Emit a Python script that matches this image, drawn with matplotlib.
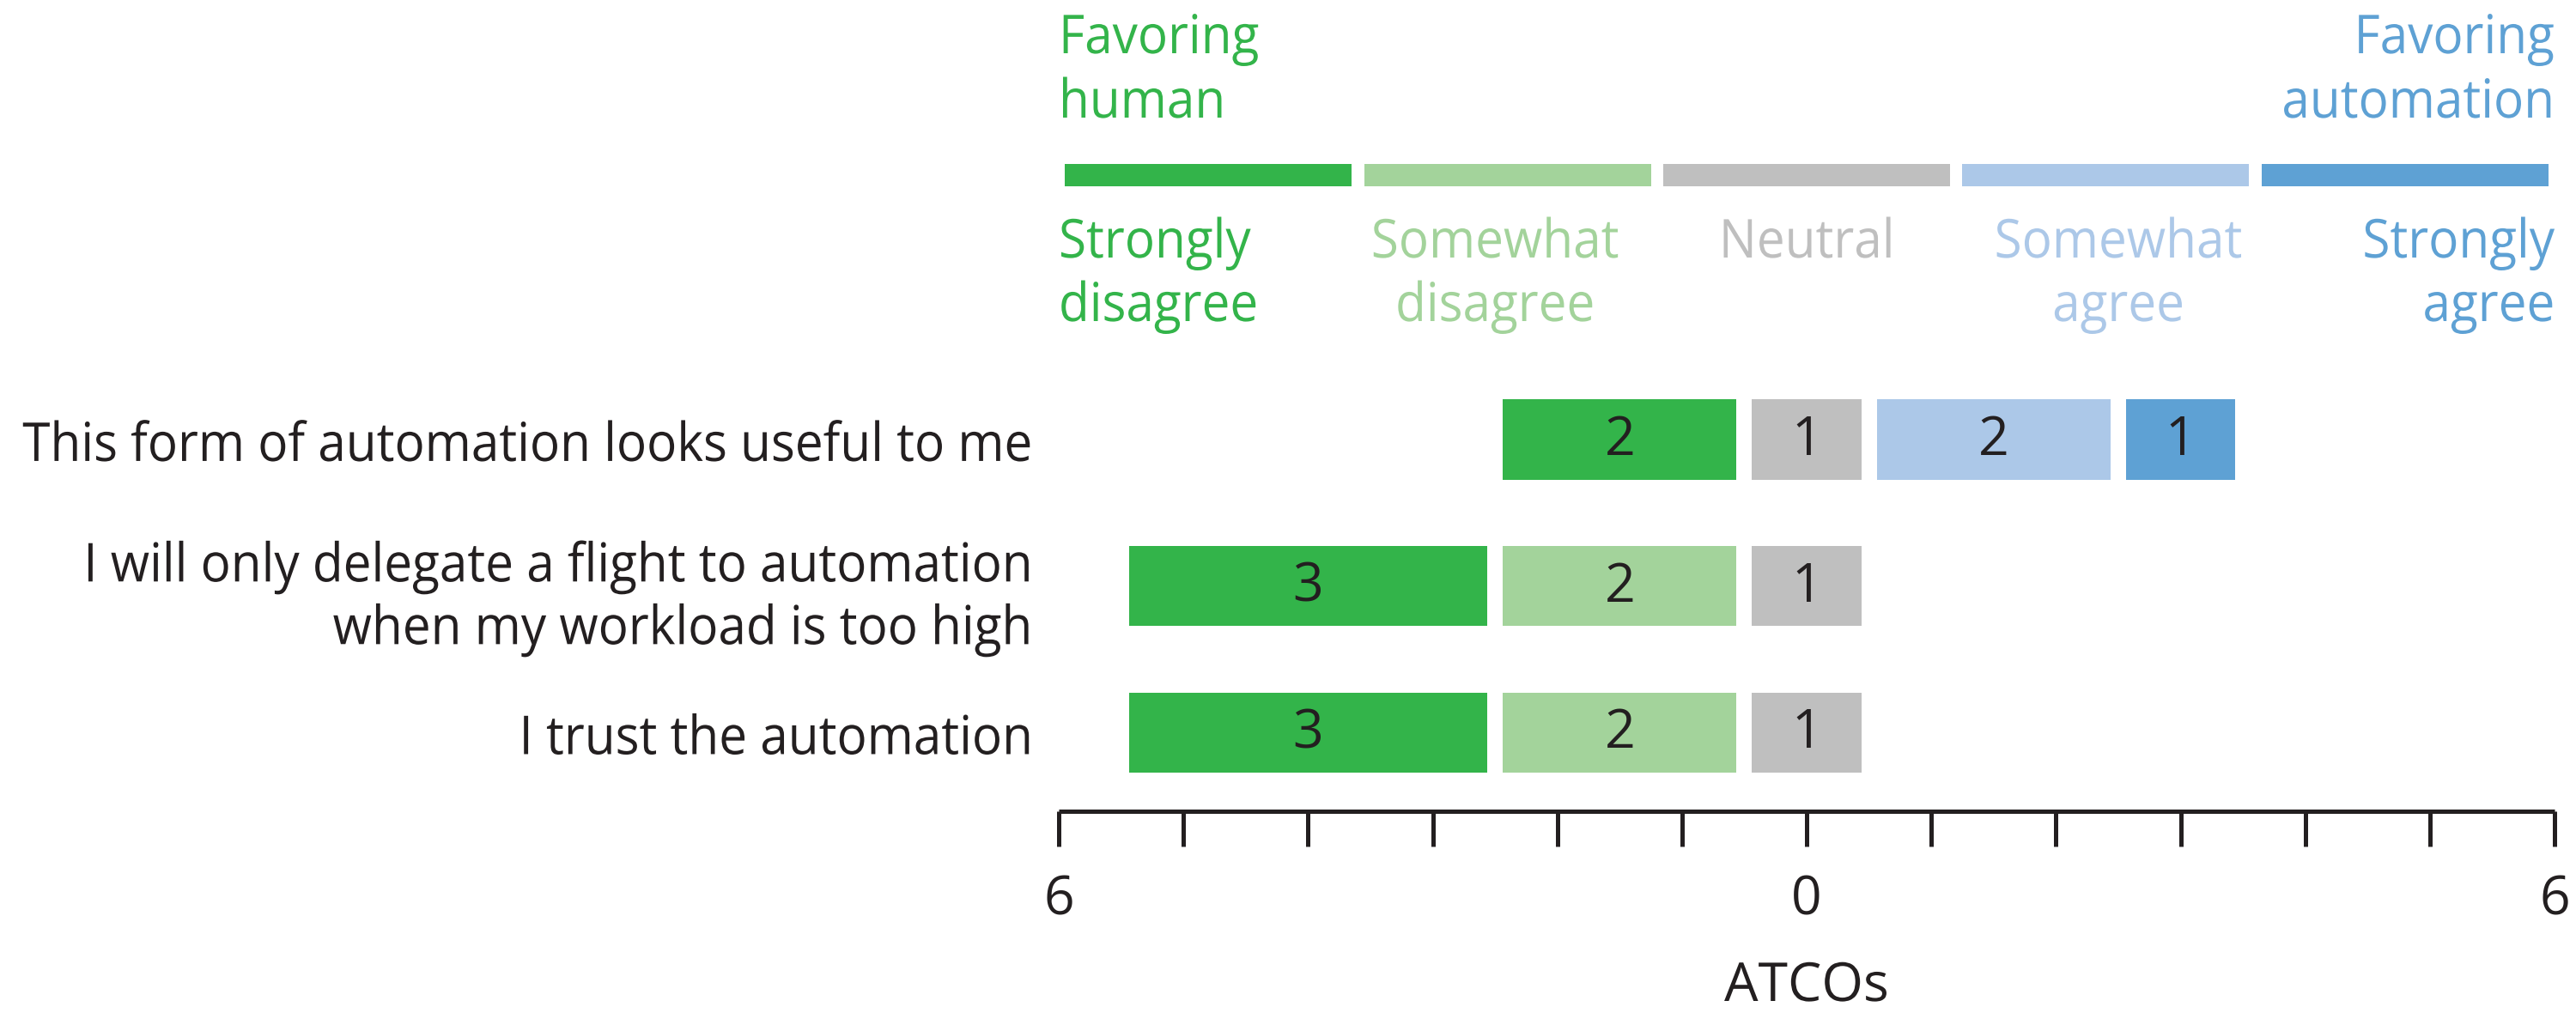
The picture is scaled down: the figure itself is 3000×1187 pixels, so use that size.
import matplotlib
matplotlib.use("Agg")
import matplotlib.pyplot as plt
import numpy as np
from matplotlib.patheffects import AbstractPathEffect
from matplotlib.transforms import Affine2D

plt.rcParams['font.family'] = ['Open Sans', 'DejaVu Sans']

# ---- data ----
questions = ["This form of automation looks useful to me",
             "I will only delegate a flight to automation\nwhen my workload is too high",
             "I trust the automation"]
categories = ["Strongly\ndisagree", "Somewhat\ndisagree", "Neutral", "Somewhat\nagree", "Strongly\nagree"]
strongly_disagree = [2, 3, 3]
somewhat_disagree = [0, 2, 2]
neutral = [1, 1, 1]
somewhat_agree = [2, 0, 0]
strongly_agree = [1, 0, 0]
tick_values = list(range(-6, 7))
tick_labels = ["6", "", "", "", "", "", "0", "", "", "", "", "", "6"]
x_label = "ATCOs"
colors = ["#33b44a", "#a3d39b", "#bfbfbf", "#acc8e8", "#5ea1d4"]
text_color = "#231f20"
FS = 15.0


class Tall(AbstractPathEffect):
    """Stretch the glyphs vertically around the text's anchor (its baseline)."""
    def __init__(self, sy, text):
        super().__init__()
        self.sy = sy
        self.text = text

    def draw_path(self, renderer, gc, tpath, affine, rgbFace=None):
        y0 = self.text.get_transform().transform(self.text.get_unitless_position())[1]
        t = affine + Affine2D().translate(0, -y0).scale(1.0, self.sy).translate(0, y0)
        renderer.draw_path(gc, tpath, t, rgbFace)


W, H, DPI = 10.0, 1187/300, 300
fig = plt.figure(figsize=(W, H), dpi=DPI)

# narrower type: the first label is as wide as in the reference, glyphs keep their height
probe = fig.text(0, 0, questions[0], fontsize=FS)
r = fig.canvas.get_renderer()
wpx = probe.get_window_extent(r).width
probe.remove()
SX = 1177.0 / wpx


def ctext(axis, x, y, s, scale=SX, **kw):
    t = axis.text(x, y, s, fontsize=FS * scale, **kw)
    t.set_path_effects([Tall(1.0 / scale, t)])
    return t


ax_l, ax_r = 1233/3000, 2975/3000
y_top_px, y_bot_px = 409.55, 944.5
ax = fig.add_axes([ax_l, 1 - y_bot_px/1187, ax_r - ax_l, (y_bot_px - y_top_px)/1187])

series = [strongly_disagree, somewhat_disagree, neutral, somewhat_agree, strongly_agree]
y = np.arange(len(questions))
sd = np.array(strongly_disagree, float)
wd = np.array(somewhat_disagree, float)
nn = np.array(neutral, float)
wa = np.array(somewhat_agree, float)
lefts = [-nn/2 - wd - sd, -nn/2 - wd, -nn/2, nn/2, nn/2 + wa]
edge_pt = 18 * 72 / DPI
for vals, lft, c in zip(series, lefts, colors):
    vals = np.array(vals, float)
    m = vals > 0
    ax.barh(y[m], vals[m], left=lft[m], height=0.652, color=c,
            edgecolor="white", linewidth=edge_pt)
    for yi, v, l in zip(y[m], vals[m], lft[m]):
        ax.text(l + v/2, yi + 0.105, f"{int(v)}", ha="center", va="baseline",
                fontsize=FS, color=text_color)

ax.set_xlim(-6, 6)
ax.set_ylim((y_bot_px - 512) / 170.75, (y_top_px - 512) / 170.75)

# row labels (right aligned, left of the axis)
label_x = -6 - 30/145.2
line_step = 73 / 170.75
for yi, q in zip(y, questions):
    lines = q.split("\n")
    n = len(lines)
    base = 0.146 + 0.036 * (n - 1)
    for k, line in enumerate(lines):
        ctext(ax, label_x, yi + base + (k - (n - 1)/2) * line_step, line,
              ha="right", va="baseline", color=text_color)
ax.set_yticks([])

ax.set_xticks(tick_values)
ax.set_xticklabels(tick_labels, fontsize=FS, color=text_color)
ax.tick_params(axis="x", length=9.84, width=1.2, color=text_color, pad=7.9)
for s in ["top", "right", "left"]:
    ax.spines[s].set_visible(False)
ax.spines["bottom"].set_linewidth(1.2)
ax.spines["bottom"].set_color(text_color)
ax.spines["bottom"].set_capstyle("butt")

# ---- legend on top (y in pixels from top) ----
lg = fig.add_axes([ax_l, 0, ax_r - ax_l, 1])
lg.set_xlim(-6, 6)
lg.set_ylim(1187, 0)
lg.axis("off")
n = len(categories)
seg = 12 / n
gap = 14.4 / 145.2
label_anchor = [(-6, "left"), (-2.5, "center"), (0, "center"), (2.5, "center"), (6, "right")]
for i, (cat, c) in enumerate(zip(categories, colors)):
    x0 = -6 + i * seg
    lg.barh(204, seg - gap, left=x0 + gap/2, height=26, color=c)
    xa, ha = label_anchor[i]
    for k, line in enumerate(cat.split("\n")):
        ctext(lg, xa, 300 + 74 * k, line, ha=ha, va="baseline", color=c)
for k, line in enumerate(["Favoring", "human"]):
    ctext(lg, -6, 62 + 75 * k, line, ha="left", va="baseline", color=colors[0])
for k, line in enumerate(["Favoring", "automation"]):
    ctext(lg, 6, 62 + 75 * k, line, ha="right", va="baseline", color=colors[4])

# x axis title, baseline at the reference position
ctext(lg, 0, 1166, x_label, scale=min(1.0, SX * 1.08), ha="center", va="baseline",
      color=text_color)

fig.savefig("out.png", dpi=DPI, facecolor="white")
